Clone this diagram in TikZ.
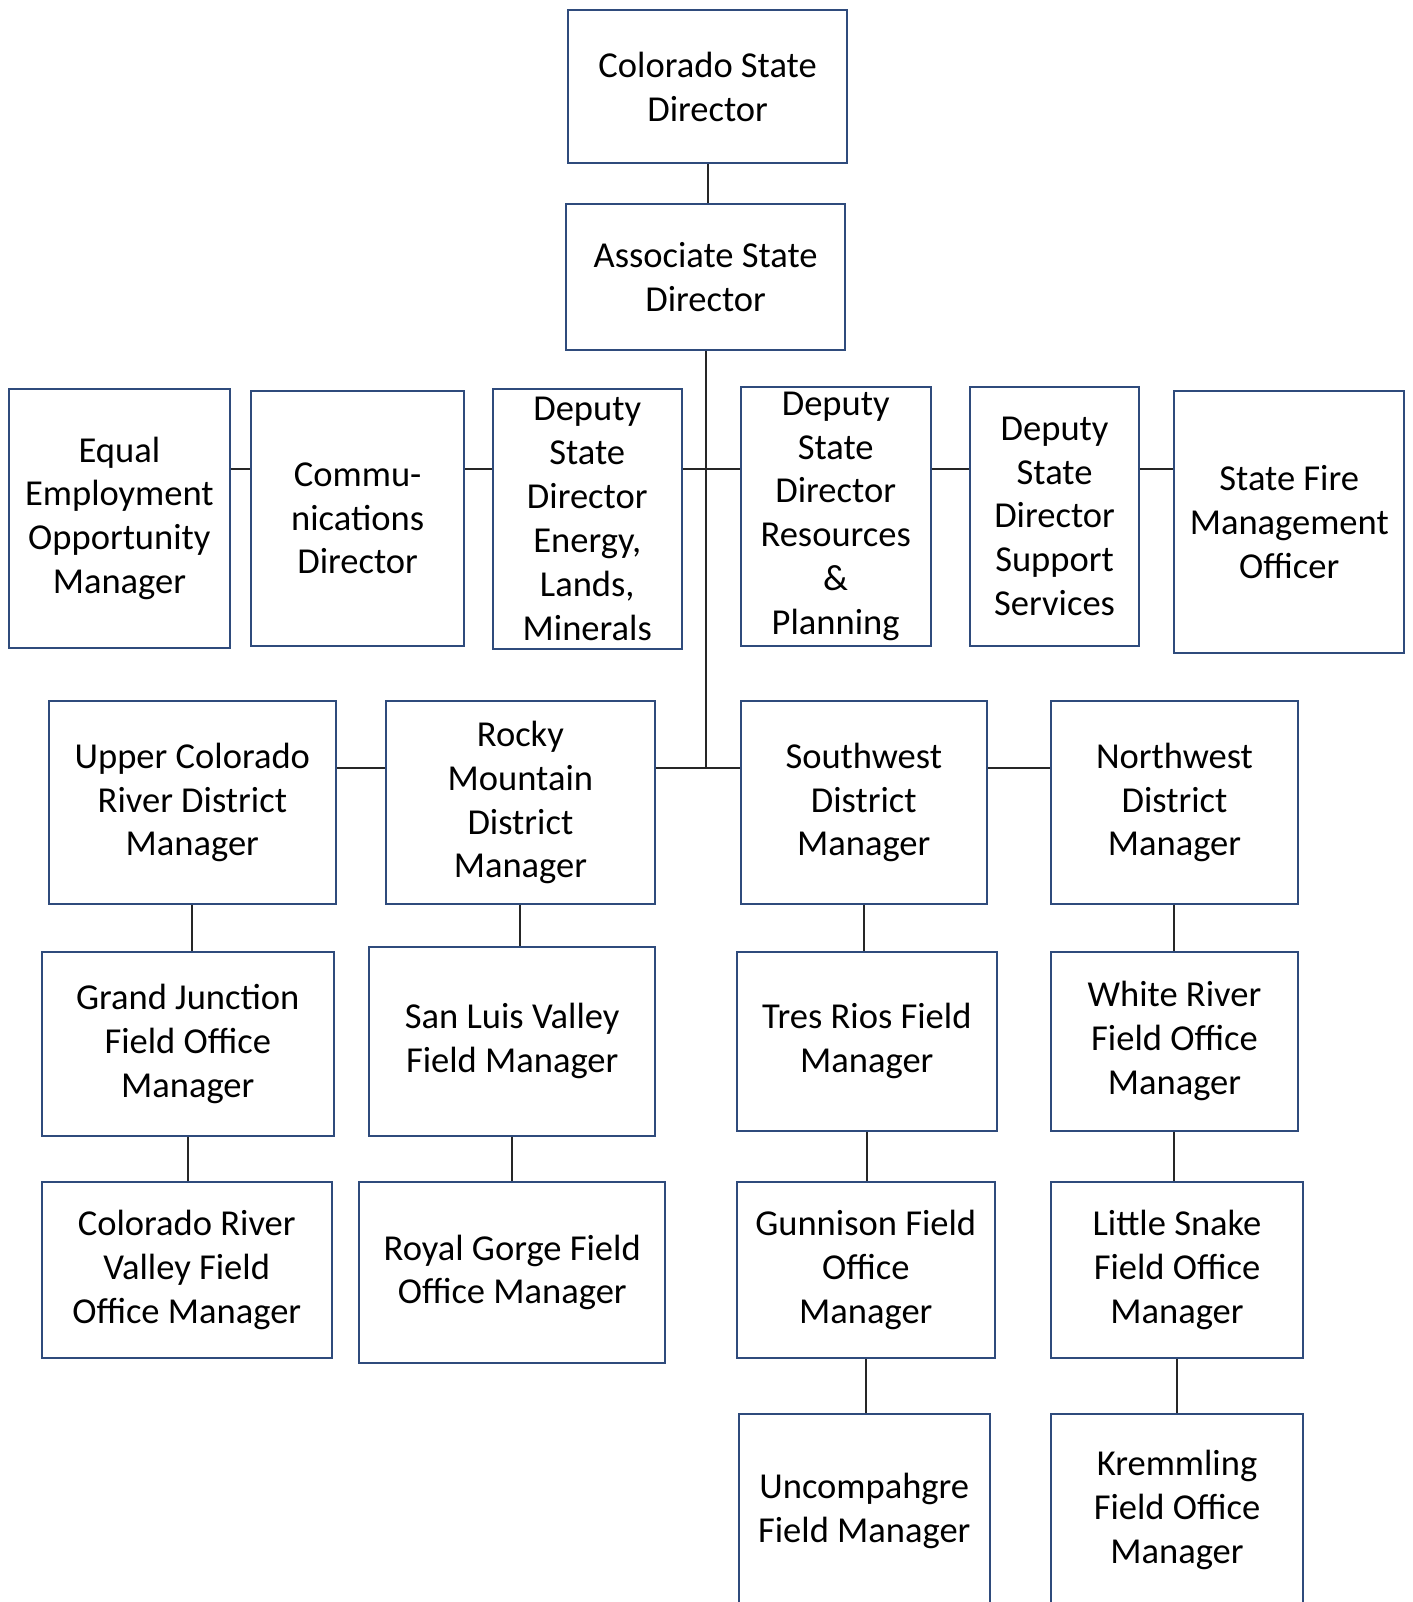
\documentclass[tikz,border=0pt]{standalone}
\usepackage{fontspec}
\setmainfont{Carlito}
\definecolor{boxcol}{HTML}{2F4B7C}
\definecolor{linecol}{HTML}{262626}
\tikzset{
  orgbox/.style={draw=boxcol, line width=1pt, inner sep=0pt, align=center,
    font=\fontsize{17.9pt}{21.5pt}\selectfont},
  link/.style={draw=linecol, line width=1pt}
}
\begin{document}
\begin{tikzpicture}[x=0.5pt,y=-0.5pt]
	\useasboundingbox (0,0) rectangle (1384,1570);
	\clip (0,0) rectangle (1384,1570);
	\node[orgbox, minimum width=136.5pt, minimum height=75pt] (csd) at (693.5,85) {Colorado State\\Director};
	\node[orgbox, minimum width=136.5pt, minimum height=71.5pt] (asd) at (691.5,271.5) {Associate State\\Director};
	\node[orgbox, minimum width=108pt, minimum height=127pt] (eeo) at (117,508) {Equal\\Employment\\Opportunity\\Manager};
	\node[orgbox, minimum width=104.5pt, minimum height=125pt] (comm) at (350.5,508) {Commu-\\nications\\Director};
	\node[orgbox, minimum width=92.5pt, minimum height=127.5pt] (dsde) at (575.5,508.5) {Deputy\\State\\Director\\Energy,\\Lands,\\Minerals};
	\node[orgbox, minimum width=93pt, minimum height=127pt] (dsdr) at (819,506) {Deputy\\State\\Director\\Resources\\\&\\Planning};
	\node[orgbox, minimum width=82.5pt, minimum height=127pt] (dsds) at (1033.5,506) {Deputy\\State\\Director\\Support\\Services};
	\node[orgbox, minimum width=112.5pt, minimum height=128.5pt] (fire) at (1263.5,511.5) {State Fire\\Management\\Officer};
	\node[orgbox, minimum width=140.5pt, minimum height=99.5pt] (ucr) at (188.5,786.5) {Upper Colorado\\River District\\Manager};
	\node[orgbox, minimum width=132pt, minimum height=99.5pt] (rmd) at (510,786.5) {Rocky\\Mountain\\District\\Manager};
	\node[orgbox, minimum width=120.5pt, minimum height=99.5pt] (swd) at (846.5,786.5) {Southwest\\District\\Manager};
	\node[orgbox, minimum width=121pt, minimum height=99.5pt] (nwd) at (1151,786.5) {Northwest\\District\\Manager};
	\node[orgbox, minimum width=143pt, minimum height=90pt] (gjf) at (184,1023) {Grand Junction\\Field Office\\Manager};
	\node[orgbox, minimum width=140pt, minimum height=92.5pt] (slv) at (502,1020.5) {San Luis Valley\\Field Manager};
	\node[orgbox, minimum width=127.5pt, minimum height=87.5pt] (trf) at (849.5,1020.5) {Tres Rios Field\\Manager};
	\node[orgbox, minimum width=121pt, minimum height=87.5pt] (wrf) at (1151,1020.5) {White River\\Field Office\\Manager};
	\node[orgbox, minimum width=142pt, minimum height=86.5pt] (crv) at (183,1244.5) {Colorado River\\Valley Field\\Office Manager};
	\node[orgbox, minimum width=150pt, minimum height=89pt] (rgf) at (502,1247) {Royal Gorge Field\\Office Manager};
	\node[orgbox, minimum width=126.5pt, minimum height=86.5pt] (gun) at (848.5,1244.5) {Gunnison Field\\Office\\Manager};
	\node[orgbox, minimum width=123.5pt, minimum height=86.5pt] (lsf) at (1153.5,1244.5) {Little Snake\\Field Office\\Manager};
	\node[orgbox, minimum width=123pt, minimum height=140pt, anchor=north] (unc) at (847,1385) {};
	\node[orgbox, draw=none] (unct) at (847,1481) {Uncompahgre\\Field Manager};
	\node[orgbox, minimum width=123.5pt, minimum height=140pt, anchor=north] (krm) at (1153.5,1385) {};
	\node[orgbox, draw=none] (krmt) at (1153.5,1480) {Kremmling\\Field Office\\Manager};
	\coordinate (hubA) at (691,460);
	\coordinate (hubB) at (691,753);
	\draw[link] (csd.south) -- (csd.south |- asd.north);
	\draw[link] (asd.south) -- (asd.south |- hubB);
	\draw[link] (eeo.east |- hubA) -- (comm.west |- hubA);
	\draw[link] (comm.east |- hubA) -- (dsde.west |- hubA);
	\draw[link] (dsde.east |- hubA) -- (dsdr.west |- hubA);
	\draw[link] (dsdr.east |- hubA) -- (dsds.west |- hubA);
	\draw[link] (dsds.east |- hubA) -- (fire.west |- hubA);
	\draw[link] (ucr.east |- hubB) -- (rmd.west |- hubB);
	\draw[link] (rmd.east |- hubB) -- (swd.west |- hubB);
	\draw[link] (swd.east |- hubB) -- (nwd.west |- hubB);
	\foreach \a/\b in {ucr/gjf, gjf/crv, rmd/slv, slv/rgf, swd/trf, trf/gun, gun/unc, nwd/wrf, wrf/lsf, lsf/krm}
		\draw[link] (\a.south) -- (\a.south |- \b.north);
\end{tikzpicture}
\end{document}
